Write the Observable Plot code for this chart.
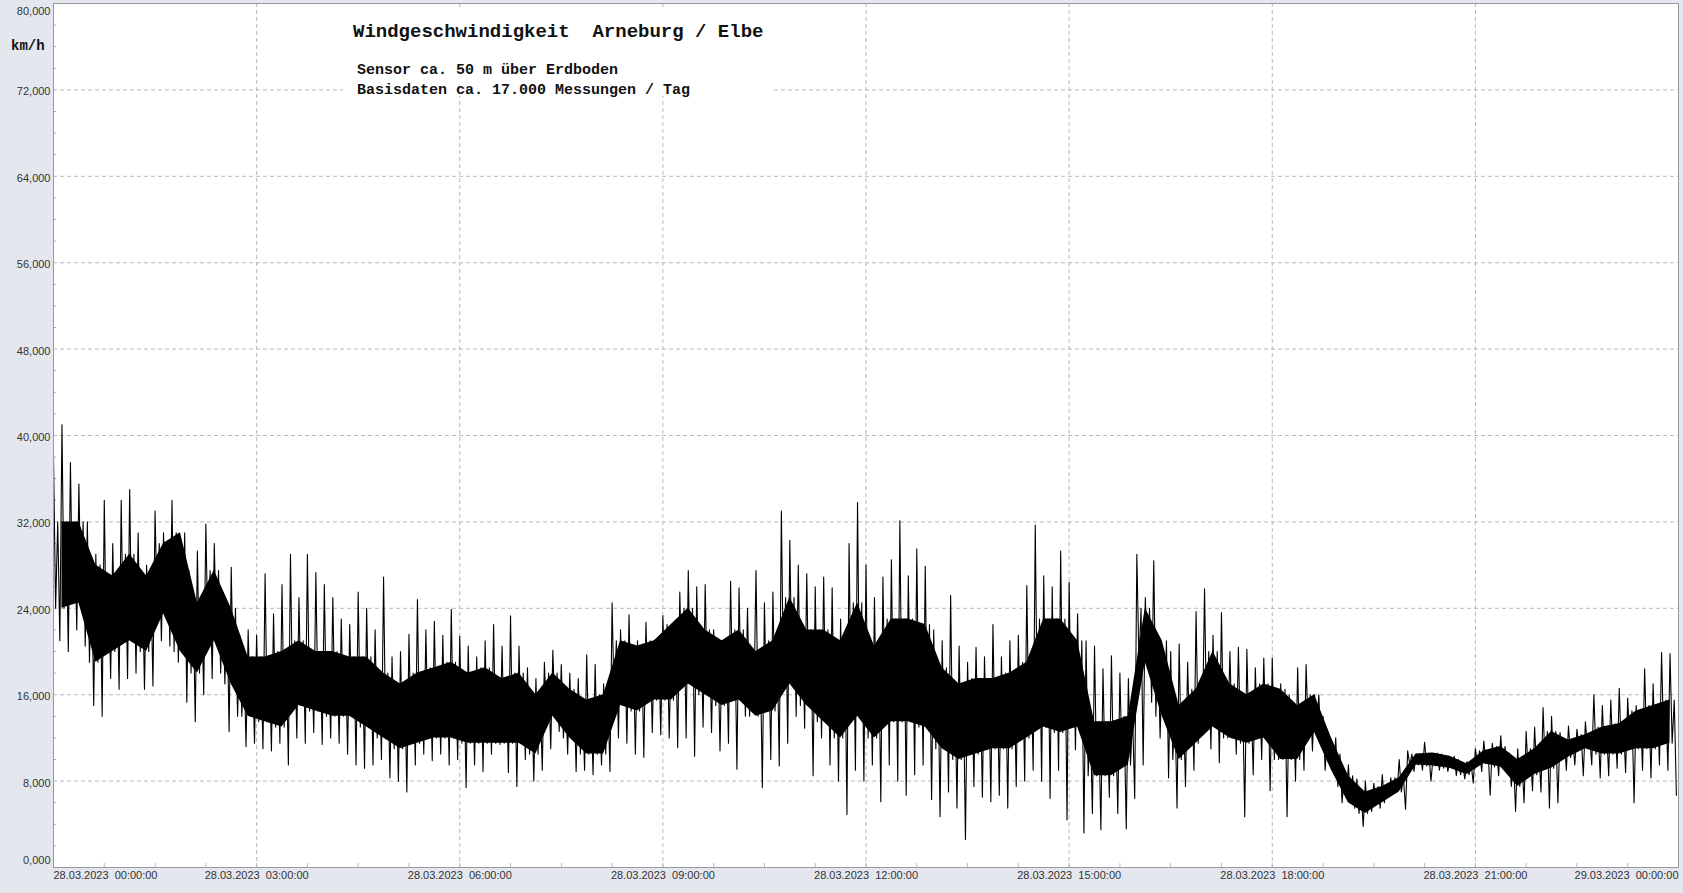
<!DOCTYPE html>
<html>
<head>
<meta charset="utf-8">
<script src="https://cdn.jsdelivr.net/npm/d3@7"></script>
<script src="https://cdn.jsdelivr.net/npm/@observablehq/plot@0.6"></script>
<style>
  html, body { margin: 0; padding: 0; background: #e4e7ee; }
  #chart svg { display: block; background: linear-gradient(to bottom, #e4e7ee 888px, #f2f2f4 888px); }
</style>
</head>
<body>
<div id="chart"></div>
<script>
// ---- data (km/h) ----
// spike extremes per 7.5-minute bin (192 bins over 28.03.2023 00:00 – 29.03.2023 00:00)
const spikeHigh = [
  38, 41, 37.5, 35.5, 32, 29, 34, 30, 34, 35, 31, 28, 33, 31, 34, 28, 27.5, 29.3, 31.8, 30,
  25.5, 27.8, 21.5, 22, 21.5, 27.2, 23.5, 26.2, 29, 25, 29, 27.3, 26.2, 25, 23, 22.5, 25.5, 24, 22,
  26.9, 19.5, 20, 21.6, 24.8, 22, 22.8, 21.5, 23.9, 21.4, 20.5, 19.5, 21, 22.5, 20.5, 23.3, 20.5, 18.5, 17.5,
  19, 20.1, 18.8, 18, 17.5, 19.7, 18.8, 17, 24.5, 22, 23.4, 21, 22.7, 21, 23.3, 21.5, 25.5, 27.5, 26,
  26.2, 22, 21, 26.5, 25.9, 24, 27.5, 24.5, 25.5, 33, 30.3, 28, 27.2, 26, 26.9, 25.9, 23, 30, 33.8,
  28, 25, 26.9, 28.5, 32.1, 27, 29.5, 27.9, 22, 21, 25.2, 20.5, 19, 20.4, 19.5, 22.5, 19.5, 21, 21.5, 26.1,
  31.7, 27, 26, 29.3, 26.4, 23.5, 21, 20.5, 18.4, 19.6, 18, 17.5, 29, 25, 28.4, 19, 20, 20.7, 19,
  23.7, 25.8, 21.5, 23.6, 20, 20.4, 20.2, 18.5, 19.4, 19.4, 17, 16, 18.5, 18.8, 16, 14, 11.1, 10.5, 9.5,
  8.2, 8, 7.8, 8.6, 8.3, 10, 10.8, 10.5, 11.6, 10.2, 10.5, 10, 10, 9.8, 11, 11.7, 11.5, 12.2, 10.6,
  11, 12.6, 13, 14.8, 14, 12.5, 13.1, 12.8, 13.5, 16, 15, 15.5, 16.6, 15.7, 15, 18.4, 17, 19.9, 19.8
];
const spikeLow = [
  21, 20, 22, 20.5, 15, 14, 17.5, 16.5, 17.5, 18, 16.5, 16.8, 21, 20.5, 19, 15.3, 13.5, 16, 17.5, 18,
  12.6, 14, 11.2, 11.5, 11, 10.8, 11.5, 9.5, 12, 11.5, 12.5, 11.4, 12, 11.5, 10.5, 9.5, 9.2, 9.5, 10,
  8.3, 8, 7, 9.5, 10.5, 9.9, 10.5, 9.5, 10, 7.4, 9.5, 8.9, 10.5, 11.4, 8.8, 7.5, 10, 8, 9,
  11, 12.6, 10.5, 8.9, 9, 8.6, 9.5, 8.9, 12, 11.5, 10.5, 10.2, 12.5, 12.3, 12, 11.1, 12, 10.3, 13,
  12.5, 10.8, 11.5, 9.1, 14, 14.8, 7.4, 10, 9.4, 11.5, 14, 12.9, 8.5, 12, 9.5, 8, 4.9, 9, 8,
  9.5, 6.1, 9.5, 8, 6.7, 8.6, 9.5, 6.3, 4.7, 7, 5.5, 2.6, 7.5, 6.5, 6.1, 6.7, 5.5, 7.5, 8, 9,
  8, 6.4, 9, 4.4, 10.9, 3.2, 5, 3.5, 6.5, 5, 3.6, 6.4, 9.5, 15.3, 12, 8.3, 5.5, 7.5, 9,
  12.6, 11, 9.7, 12, 10.5, 4.7, 8.6, 10, 7.1, 10, 4.7, 8, 9, 10.8, 11.5, 10, 7.5, 6.5, 5.5,
  3.8, 5.2, 5.5, 6.5, 7, 5.4, 8.9, 9, 8, 9, 8.9, 8.5, 8.2, 7.8, 8.9, 6.7, 8.5, 9.5, 5.2,
  6, 7.1, 7, 5.5, 6, 9, 9.5, 8.5, 9.5, 8.3, 8.5, 9.2, 8.8, 6, 9, 8.3, 9.5, 9, 6.7
];
// dense core band per 15-minute bin (96 bins)
const coreHigh = [
  32, 32, 28, 27, 29, 27, 30, 31, 24.5, 27.5, 24, 19.5, 19.5, 20, 21, 20, 20, 19.5, 19.5,
  18, 17, 18, 18.5, 19, 18, 18.5, 17.5, 18, 16, 18, 16.5, 15.5, 16, 21, 20.5, 21, 22.5, 24, 22,
  21, 22, 20, 21, 25, 22, 22, 21, 24.5, 20.5, 23, 23, 22.5, 18.5, 17, 17.5, 17.5, 18, 19,
  23, 23, 21, 13.5, 13.5, 14, 24, 21, 15, 16.5, 20, 17, 16, 17, 16.5, 15, 16, 12, 8.5,
  7, 7.5, 8.3, 10.5, 10.6, 10.3, 9.6, 10.8, 11.2, 10, 11, 12.6, 11.8, 12.3, 13, 13.3, 14.5, 15, 15.5
];
const coreLow = [
  24, 24.5, 19, 20, 21, 20, 23.5, 20, 18, 21, 17, 14, 13.5, 13, 15, 14.5, 14, 14, 13,
  12, 11, 11.5, 12, 12, 11.5, 11.5, 11.5, 11.5, 10.5, 14, 12, 10.5, 10.5, 15, 14.5, 15.5, 15.5, 17, 16,
  15, 15.5, 14, 14.5, 17, 15, 13.5, 12, 14, 12, 13.5, 13.5, 13, 11, 10, 10.5, 11, 11, 12,
  13, 12.5, 13, 8.5, 8.5, 9.5, 19, 14, 10, 11.5, 13, 12, 11.5, 12, 10, 10, 12.5, 9, 6,
  5, 6, 7, 9.5, 9.4, 9.2, 8.6, 9.6, 9.3, 7.5, 8.6, 9.2, 10.2, 11, 10.5, 10.5, 11, 11, 11.5
];
// axes and texts
const yTickValues = [0, 8, 16, 24, 32, 40, 48, 56, 64, 72, 80];
const xTickHours = [0, 3, 6, 9, 12, 15, 18, 21, 24];
const titleText = "Windgeschwindigkeit\u00a0 Arneburg / Elbe";
const subtitleLines = ["Sensor ca. 50 m über Erdboden", "Basisdaten ca. 17.000 Messungen / Tag"];
const unitText = "km/h";

// ---- build tables ----
const t0 = Date.UTC(2023, 2, 28, 0, 0, 0);
const MIN = 60000;
const spikeBin = 7.5, coreBin = 15;
const trace = spikeHigh.flatMap((h, i) => {
  const j = Math.floor(i / 2);
  const s = t0 + i * spikeBin * MIN;
  return [
    {t: new Date(s), v: h},
    {t: new Date(s + 0.25 * spikeBin * MIN), v: coreLow[j]},
    {t: new Date(s + 0.5 * spikeBin * MIN), v: coreHigh[j]},
    {t: new Date(s + 0.75 * spikeBin * MIN), v: spikeLow[i]}
  ];
});
const core = coreHigh.map((h, j) => ({t: new Date(t0 + (j + 0.5) * coreBin * MIN), lo: coreLow[j], hi: h}));

const xTicks = xTickHours.map(h => new Date(t0 + h * 60 * MIN));
const xMinor = d3.range(45, 1440, 45).map(m => new Date(t0 + m * MIN));
const yMinor = d3.range(2, 80, 2).filter(v => v % 8 !== 0);
const yGrid = yTickValues.filter(v => v > 0 && v < 80);
const xGrid = xTicks.slice(1, -1);

const fmtY = v => v.toFixed(3).replace(".", ",");
const fmtX = d3.utcFormat("%d.%m.%Y\u00a0 %H:%M:%S");

const gridStyle = {stroke: "#b9b9b9", strokeOpacity: 1, strokeDasharray: "4,3", strokeWidth: 1};
const labelStyle = {tickSize: 0, label: null, fill: "#333"};

const chart = Plot.plot({
  width: 1683,
  height: 893,
  marginLeft: 53,
  marginRight: 5,
  marginTop: 3,
  marginBottom: 26,
  x: {type: "utc", domain: [new Date(t0), new Date(t0 + 1440 * MIN)]},
  y: {domain: [0, 80]},
  style: {background: "transparent", fontFamily: "'Liberation Sans', Arial, sans-serif", fontSize: "11px", color: "#333", overflow: "visible"},
  marks: [
    Plot.frame({fill: "white", stroke: null}),
    Plot.ruleY(yGrid, {y: d => d, ...gridStyle}),
    Plot.ruleX(xGrid, {x: d => d, ...gridStyle}),
    Plot.axisY(yMinor, {tickSize: -3, fill: "none", stroke: "#aaa", label: null}),
    Plot.axisX(xMinor, {tickSize: -4, fill: "none", stroke: "#bbb", label: null}),
    Plot.areaY(core, {x: "t", y1: "lo", y2: "hi", fill: "black"}),
    Plot.lineY(trace, {x: "t", y: "v", stroke: "black", strokeWidth: 1.1}),
    Plot.frame({stroke: "#999", fill: null}),
    Plot.axisY(yTickValues.slice(1, -1), {...labelStyle, tickPadding: 3, tickFormat: fmtY, dy: 2}),
    Plot.axisY([80], {...labelStyle, tickPadding: 3, tickFormat: fmtY, dy: 8}),
    Plot.axisY([0], {...labelStyle, tickPadding: 3, tickFormat: fmtY, dy: -7}),
    Plot.axisX(xTicks.slice(0, 1), {...labelStyle, tickPadding: 4, tickFormat: fmtX, textAnchor: "start"}),
    Plot.axisX(xTicks.slice(1, -1), {...labelStyle, tickPadding: 4, tickFormat: fmtX}),
    Plot.axisX(xTicks.slice(-1), {...labelStyle, tickPadding: 4, tickFormat: fmtX, textAnchor: "end"})
  ]
});

const svg = d3.select(chart);
svg.append("rect").attr("x", 343).attr("y", 7).attr("width", 430).attr("height", 89).attr("fill", "white");
const mono = "'Liberation Mono', 'Courier New', monospace";
const addText = (x, y, size, s) => svg.append("text")
  .attr("x", x).attr("y", y).attr("text-anchor", "start")
  .attr("font-family", mono).attr("font-size", size).attr("font-weight", "bold").attr("fill", "#111")
  .text(s);
addText(353, 36.5, 19, titleText);
subtitleLines.forEach((s, i) => addText(357, 73.5 + i * 20, 15, s));
addText(11, 50, 14, unitText);

document.getElementById("chart").appendChild(chart);
</script>
</body>
</html>
